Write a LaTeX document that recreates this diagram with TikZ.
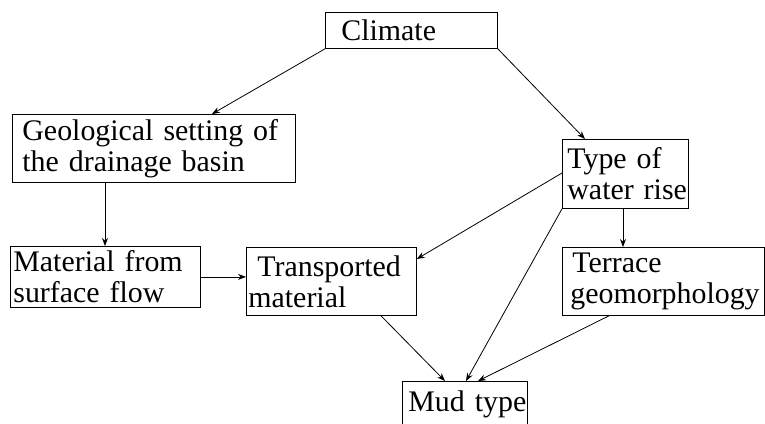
\documentclass[tikz,border=0pt]{standalone}
\usepackage{fontspec}
\setmainfont{Liberation Serif}
\usetikzlibrary{arrows.meta,calc}
\begin{document}
\begin{tikzpicture}[x=1bp,y=-1bp,
  box/.style={draw, line width=0.8bp, anchor=north west, inner ysep=0pt, align=left,
    font=\fontsize{30}{31}\selectfont},
  arr/.style={line width=0.8bp, -{Stealth[length=8bp,width=6bp]}}]
\useasboundingbox (0,0) rectangle (765,423);
\node[box, inner xsep=16bp, text width=172bp-32bp, minimum height=36bp] (climate) at (325,12) {Climate};
\node[box, inner xsep=10bp, text width=283bp-20bp, minimum height=68bp] (geo) at (12,114) {Geological~setting~of\\the~drainage~basin};
\node[box, inner xsep=5bp, text width=126bp-10bp, minimum height=69bp] (type) at (562,139) {Type~of\\water~rise};
\node[box, inner xsep=3bp, text width=190bp-6bp, minimum height=61bp] (mat) at (10,246) {Material~from\\surface~flow};
\node[box, inner xsep=2bp, text width=170bp-4bp, minimum height=68bp] (trans) at (246,247) {\hspace*{9bp}Transported\\material};
\node[box, inner xsep=8bp, text width=202bp-16bp, minimum height=68bp] (terr) at (562,247) {\hspace*{2bp}Terrace\\geomorphology};
\node[box, inner xsep=6bp, text width=125bp-12bp, minimum height=46bp] (mud) at (402,381) {Mud~type};
\draw[arr] (climate.south west) -- ($(geo.north west)+(200,0)$);
\draw[arr] (climate.south east) -- ($(type.north west)+(23,0)$);
\draw[arr] ($(geo.south west)+(93,0)$) -- ($(mat.north west)+(95,0)$);
\draw[arr] (mat.east) -- (trans.west |- mat.east);
\draw[arr] ($(type.north west)+(0,34)$) -- ($(trans.north east)+(0,12)$);
\draw[arr] (type.south west) -- ($(mud.north west)+(64,0)$);
\draw[arr] ($(type.south west)+(61,0)$) -- ($(terr.north west)+(61,0)$);
\draw[arr] ($(trans.south west)+(135,0)$) -- ($(mud.north west)+(43,0)$);
\draw[arr] ($(terr.south west)+(47,0)$) -- ($(mud.north west)+(76,0)$);
\end{tikzpicture}
\end{document}
